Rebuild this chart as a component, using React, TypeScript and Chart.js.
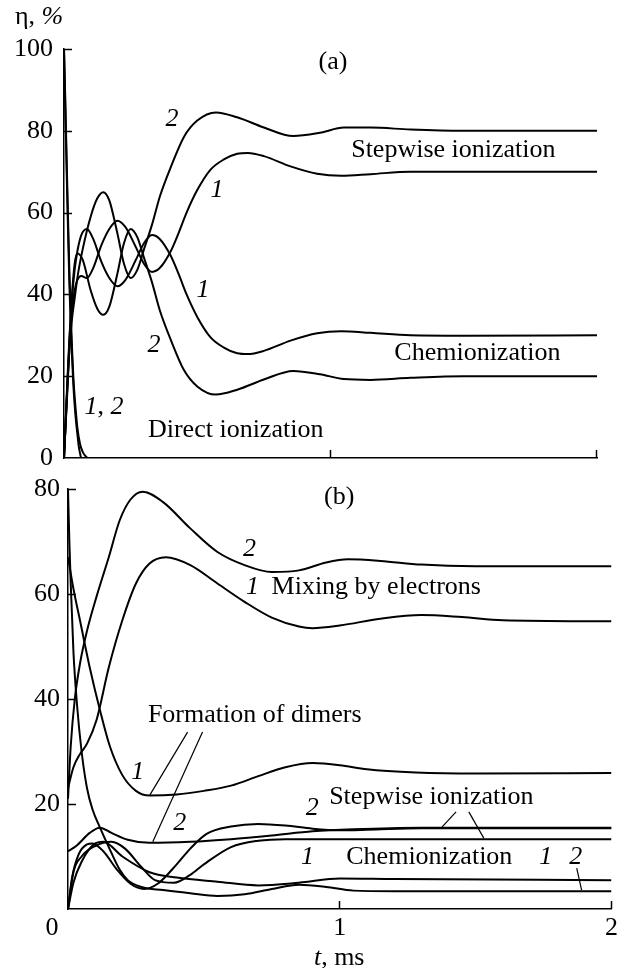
import React, { useEffect, useRef } from 'react';
import { Chart, registerables } from 'chart.js';

Chart.register(...registerables);

const SERIF = '"Liberation Serif", "Times New Roman", serif';
const FS = 26;

// ---------- Panel (a): direct, stepwise and chemionization shares ----------
const directA1T = [0, 0.005, 0.01, 0.015, 0.02, 0.025, 0.03, 0.035, 0.04, 0.045, 0.05, 0.055, 0.06, 0.065, 0.075, 0.27];
const directA1 = [100, 85, 70, 56, 43, 33, 25, 18, 13, 9, 6, 3, 1.2, 0, 0, 0];
const directA2T = [0, 0.005, 0.01, 0.015, 0.02, 0.025, 0.03, 0.035, 0.04, 0.045, 0.05, 0.06, 0.07, 0.08, 0.09, 0.27];
const directA2 = [100, 87, 73, 59, 46, 36, 27, 20, 15, 11, 7.5, 3.5, 1.5, 0.5, 0, 0];

const pairA1T = [0, 0.01, 0.02, 0.03, 0.04, 0.05, 0.065, 0.086, 0.11, 0.14, 0.17, 0.2, 0.23, 0.27, 0.3, 0.33, 0.36, 0.4, 0.43, 0.46, 0.5, 0.55, 0.6, 0.65, 0.69, 0.75, 0.85, 0.95, 1.04, 1.15, 1.3, 1.5, 2];
const stepwiseA1 = [0, 14, 27, 36, 41, 43.5, 44.5, 44, 46.5, 52, 56, 58, 56.5, 51.5, 47.5, 45.5, 46.5, 50.5, 55, 60, 65.5, 70.5, 73, 74.4, 74.6, 73.8, 71.3, 69.5, 69, 69.4, 70, 70, 70];
const chemiA1 = [0, 14, 28, 39, 46, 50.5, 54.5, 56, 53.5, 48, 44, 42, 43.5, 48.5, 52.5, 54.5, 53.5, 49.5, 45, 40, 34.5, 29.5, 27, 25.6, 25.4, 26.2, 28.7, 30.5, 31, 30.6, 30, 29.9, 30];

const pairA2T = [0, 0.01, 0.02, 0.03, 0.04, 0.05, 0.07, 0.1, 0.125, 0.147, 0.17, 0.2, 0.225, 0.25, 0.275, 0.3, 0.33, 0.36, 0.4, 0.45, 0.5, 0.57, 0.65, 0.75, 0.86, 0.96, 1.05, 1.15, 1.3, 1.5, 2];
const stepwiseA2 = [0, 13, 26, 34, 39, 44, 51, 59, 63.5, 65, 63, 55, 47.5, 44, 46, 51, 57, 64, 71, 78.5, 82.5, 84.5, 83.3, 80.8, 78.7, 79.5, 80.8, 80.8, 80.3, 80, 80];
const chemiA2 = [0, 15, 29, 40, 47.5, 50, 48.5, 41, 36.5, 35, 37, 45, 52.5, 56, 54, 49, 43, 36, 29, 21.5, 17.5, 15.5, 16.7, 19.2, 21.3, 20.5, 19.3, 19.1, 19.6, 20, 20];

const yTicksA = [0, 20, 40, 60, 80, 100];

// ---------- Panel (b): mixing, dimers, stepwise and chemionization ----------
const mixB2T = [0, 0.01, 0.025, 0.045, 0.07, 0.105, 0.15, 0.19, 0.23, 0.275, 0.35, 0.45, 0.55, 0.65, 0.75, 0.85, 0.95, 1.03, 1.15, 1.3, 1.5, 2];
const mixB2 = [21, 31, 40, 47, 53, 59.5, 67, 74, 78, 79.5, 77.5, 72.5, 68, 65.5, 64.2, 64.5, 66, 66.6, 66.3, 65.6, 65.3, 65.3];
const mixB1T = [0, 0.02, 0.044, 0.07, 0.105, 0.15, 0.2, 0.25, 0.3, 0.36, 0.45, 0.55, 0.65, 0.75, 0.85, 0.9, 1.0, 1.15, 1.3, 1.45, 1.6, 2];
const mixB1 = [23, 27, 29.5, 31.5, 36, 46, 55, 62, 65.8, 67, 65.5, 62, 58.5, 55.5, 53.8, 53.5, 54, 55.3, 56, 55.6, 55, 54.8];

const dimerB1T = [0, 0.02, 0.044, 0.08, 0.117, 0.154, 0.2, 0.25, 0.3, 0.4, 0.5, 0.6, 0.7, 0.8, 0.9, 1.0, 1.1, 1.28, 1.5, 2];
const dimerB1 = [67, 61, 55, 46, 38, 31, 25.5, 22.5, 21.6, 21.8, 22.5, 23.5, 25.3, 27, 27.8, 27.4, 26.6, 26, 25.8, 25.9];
const dimerB2T = [0, 0.03, 0.08, 0.117, 0.16, 0.22, 0.3, 0.45, 0.6, 0.75, 0.9, 1.05, 1.3, 2];
const dimerB2 = [11, 12, 14.5, 15.5, 14.5, 13.2, 12.6, 12.8, 13.3, 14, 14.8, 15.2, 15.5, 15.5];

const stepB2T = [0, 0.015, 0.04, 0.07, 0.09, 0.13, 0.18, 0.23, 0.28, 0.33, 0.4, 0.45, 0.51, 0.6, 0.7, 0.8, 0.9, 1.0, 1.1, 1.3, 2];
const stepB2 = [0, 6, 10.5, 12.3, 12.5, 11, 7.5, 4.8, 3.8, 4.8, 8.5, 11.5, 14.3, 15.7, 16.2, 15.9, 15.3, 15.0, 15.1, 15.4, 15.4];
const stepB1T = [0, 0.02, 0.05, 0.1, 0.16, 0.21, 0.27, 0.32, 0.39, 0.45, 0.5, 0.6, 0.7, 0.8, 2];
const stepB1 = [0, 7, 10, 12, 12.8, 11.5, 8, 5.5, 5, 6.5, 8.5, 11.8, 13, 13.3, 13.3];

const chemB1T = [0, 0.02, 0.05, 0.1, 0.13, 0.2, 0.3, 0.4, 0.55, 0.7, 0.85, 1.0, 1.2, 2];
const chemB1 = [0, 5, 9, 12.5, 12.8, 10, 7, 6, 5.2, 4.5, 5.0, 5.8, 5.7, 5.5];
const chemB2T = [0, 0.005, 0.01, 0.02, 0.033, 0.05, 0.07, 0.09, 0.117, 0.15, 0.19, 0.22, 0.27, 0.35, 0.45, 0.55, 0.65, 0.75, 0.85, 0.95, 1.05, 1.2, 2];
const chemB2 = [80, 70, 62, 49, 39, 30, 23, 19, 15.6, 11.8, 7.5, 5.5, 4.2, 3.6, 3.0, 2.5, 2.8, 3.8, 4.6, 4.2, 3.5, 3.4, 3.4];

const yTicksB = [0, 20, 40, 60, 80];
const xTicks = [0, 1, 2];

type Part = { text: string; italic?: boolean };
type Note =
  | { kind: 'text'; t: number; v: number; parts: Part[]; align?: 'left' | 'center' }
  | { kind: 'line'; t1: number; v1: number; t2: number; v2: number };

const txt = (t: number, v: number, parts: Part[], align: 'left' | 'center' = 'center'): Note => ({ kind: 'text', t, v, parts, align });
const it = (text: string): Part => ({ text, italic: true });
const rm = (text: string): Part => ({ text });
const lead = (t1: number, v1: number, t2: number, v2: number): Note => ({ kind: 'line', t1, v1, t2, v2 });

const notesA: Note[] = [
  txt(-0.184, 107.8, [rm('η, '), it('%')], 'left'),
  txt(1.009, 96.8, [rm('(a)')]),
  txt(0.405, 82.9, [it('2')]),
  txt(0.574, 65.5, [it('1')]),
  txt(1.461, 75.3, [rm('Stepwise ionization')]),
  txt(0.522, 41.1, [it('1')]),
  txt(0.338, 27.6, [it('2')]),
  txt(1.551, 25.7, [rm('Chemionization')]),
  txt(0.15, 12.5, [it('1'), rm(', '), it('2')]),
  txt(0.315, 6.8, [rm('Direct ionization')], 'left'),
];

const notesB: Note[] = [
  txt(0.998, 78.5, [rm('(b)')]),
  txt(0.668, 68.6, [it('2')]),
  txt(0.679, 61.3, [it('1')]),
  txt(0.749, 61.3, [rm('Mixing by electrons')], 'left'),
  txt(0.294, 37.0, [rm('Formation of dimers')], 'left'),
  lead(0.44, 33.7, 0.301, 21.7),
  lead(0.495, 33.7, 0.312, 12.8),
  txt(0.257, 26.1, [it('1')]),
  txt(0.411, 16.4, [it('2')]),
  txt(0.899, 19.2, [it('2')]),
  txt(0.961, 21.3, [rm('Stepwise ionization')], 'left'),
  lead(1.428, 18.5, 1.376, 15.6),
  lead(1.475, 18.5, 1.53, 13.5),
  txt(0.881, 9.9, [it('1')]),
  txt(1.024, 9.9, [rm('Chemionization')], 'left'),
  txt(1.758, 9.9, [it('1')]),
  txt(1.868, 9.9, [it('2')]),
  lead(1.872, 7.8, 1.89, 3.6),
  txt(-0.059, -3.6, [rm('0')]),
  txt(0.998, -9.3, [it('t'), rm(', ms')]),
];

const fontOf = (p: Part) => `${p.italic ? 'italic ' : ''}${FS}px ${SERIF}`;

// Draws the inward tick marks, free text and leader lines in data coordinates.
const notesPlugin = {
  id: 'notes',
  afterDraw(chart: any, _args: any, opts: any) {
    const { ctx } = chart;
    const xs = chart.scales.x;
    const ys = chart.scales.y;
    ctx.save();
    ctx.strokeStyle = '#000';
    ctx.fillStyle = '#000';
    ctx.lineWidth = 1.5;
    const seg = (x1: number, y1: number, x2: number, y2: number) => {
      ctx.beginPath();
      ctx.moveTo(x1, y1);
      ctx.lineTo(x2, y2);
      ctx.stroke();
    };
    const tl = opts.tickLen as number;
    ys.ticks.forEach((tk: any) => {
      if (tk.value === ys.min) return;
      const y = Math.round(ys.getPixelForValue(tk.value)) + 0.5;
      seg(xs.left, y, xs.left + tl, y);
    });
    xs.ticks.forEach((tk: any) => {
      if (tk.value === xs.min) return;
      const x = Math.round(xs.getPixelForValue(tk.value)) - 0.5;
      seg(x, ys.bottom, x, ys.bottom - tl);
    });
    ctx.lineWidth = 1.2;
    ctx.textBaseline = 'middle';
    ctx.textAlign = 'left';
    for (const n of opts.items as Note[]) {
      if (n.kind === 'line') {
        seg(xs.getPixelForValue(n.t1), ys.getPixelForValue(n.v1), xs.getPixelForValue(n.t2), ys.getPixelForValue(n.v2));
        continue;
      }
      const widths = n.parts.map((p) => {
        ctx.font = fontOf(p);
        return ctx.measureText(p.text).width;
      });
      const total = widths.reduce((a, b) => a + b, 0);
      let x = xs.getPixelForValue(n.t);
      if (n.align !== 'left') x -= total / 2;
      const y = ys.getPixelForValue(n.v);
      n.parts.forEach((p, i) => {
        ctx.font = fontOf(p);
        ctx.fillText(p.text, x, y);
        x += widths[i];
      });
    }
    ctx.restore();
  },
};

const series = (t: number[], v: number[]) => ({
  data: t.map((x, i) => ({ x, y: v[i] })),
  borderColor: '#000',
  borderWidth: 2,
  pointRadius: 0,
  fill: false,
  cubicInterpolationMode: 'monotone' as const,
});

const tickFont = { family: SERIF, size: FS };

function panelConfig(p: {
  datasets: any[];
  yMax: number;
  yTicks: number[];
  pad: { top: number; right: number; bottom: number; left: number };
  yWidth: number;
  xHeight: number;
  yPad: number;
  showX: boolean;
  showY0: boolean;
  notes: Note[];
}) {
  return {
    type: 'line' as const,
    data: { datasets: p.datasets },
    plugins: [notesPlugin],
    options: {
      responsive: false,
      animation: false as const,
      devicePixelRatio: 1,
      events: [],
      layout: { padding: p.pad },
      plugins: {
        legend: { display: false },
        tooltip: { enabled: false },
        notes: { items: p.notes, tickLen: 8 },
      },
      scales: {
        x: {
          type: 'linear' as const,
          min: 0,
          max: 2,
          afterBuildTicks: (s: any) => { s.ticks = xTicks.map((value) => ({ value })); },
          ticks: {
            display: p.showX,
            font: tickFont,
            color: '#000',
            padding: 4,
            maxRotation: 0,
            autoSkip: false,
            callback: (v: any) => (v === 0 ? '' : String(v)),
          },
          grid: { display: false, drawTicks: false },
          border: { display: true, color: '#000', width: 1.5 },
          afterFit: (s: any) => { s.height = p.xHeight; },
        },
        y: {
          type: 'linear' as const,
          min: 0,
          max: p.yMax,
          afterBuildTicks: (s: any) => { s.ticks = p.yTicks.map((value) => ({ value })); },
          ticks: {
            font: tickFont,
            color: '#000',
            padding: p.yPad,
            autoSkip: false,
            callback: (v: any) => (v === 0 && !p.showY0 ? '' : String(v)),
          },
          grid: { display: false, drawTicks: false },
          border: { display: true, color: '#000', width: 1.5 },
          afterFit: (s: any) => { s.width = p.yWidth; },
        },
      },
    },
  };
}

export default function App() {
  const refA = useRef<HTMLCanvasElement>(null);
  const refB = useRef<HTMLCanvasElement>(null);

  useEffect(() => {
    const chartA = new Chart(refA.current as HTMLCanvasElement, panelConfig({
      datasets: [
        series(directA1T, directA1),
        series(directA2T, directA2),
        series(pairA1T, stepwiseA1),
        series(pairA1T, chemiA1),
        series(pairA2T, stepwiseA2),
        series(pairA2T, chemiA2),
      ],
      yMax: 100,
      yTicks: yTicksA,
      pad: { top: 49, right: 25, bottom: 500, left: 0 },
      yWidth: 64,
      xHeight: 10,
      yPad: 11,
      showX: false,
      showY0: true,
      notes: notesA,
    }) as any);

    const chartB = new Chart(refB.current as HTMLCanvasElement, panelConfig({
      datasets: [
        series(mixB2T, mixB2),
        series(mixB1T, mixB1),
        series(dimerB1T, dimerB1),
        series(dimerB2T, dimerB2),
        series(stepB2T, stepB2),
        series(stepB1T, stepB1),
        series(chemB1T, chemB1),
        series(chemB2T, chemB2),
      ],
      yMax: 80,
      yTicks: yTicksB,
      pad: { top: 489, right: 9, bottom: 0, left: 0 },
      yWidth: 68,
      xHeight: 59,
      yPad: 8,
      showX: true,
      showY0: false,
      notes: notesB,
    }) as any);

    return () => {
      chartA.destroy();
      chartB.destroy();
    };
  }, []);

  const canvasStyle: React.CSSProperties = { position: 'absolute', left: 0, top: 0 };
  return (
    <div style={{ position: 'absolute', left: 0, top: 0, width: 622, height: 968, background: '#fff' }}>
      <canvas ref={refA} width={622} height={968} style={canvasStyle} />
      <canvas ref={refB} width={622} height={968} style={canvasStyle} />
    </div>
  );
}
